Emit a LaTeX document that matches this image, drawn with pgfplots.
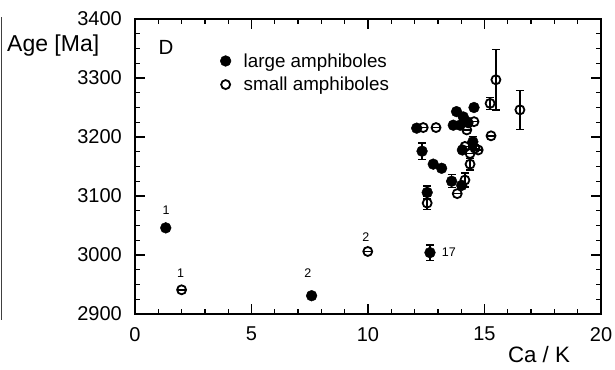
\documentclass[border=0pt]{standalone}
\usepackage{pgfplots}
\pgfplotsset{compat=1.18}
\usepackage{pgfplotstable}
\usepackage{fontspec}
\setmainfont{Liberation Sans}

\pgfplotstableread{
x y e
1.32 3046 0
7.58 2931 0
12.66 3004 13
12.09 3215 0
13.66 3220 0
13.80 3243 0
14.55 3250 0
14.09 3234 0
14.24 3226 0
13.95 3220 0
14.50 3192 9
14.05 3178 0
12.32 3176 14
12.80 3154 0
13.16 3147 0
13.59 3125 11
14.02 3118 0
12.54 3106 11
}\largetab

\pgfplotstableread{
x y e
2.00 2941 0
9.99 3006 0
15.49 3297 51
16.52 3246 33
15.24 3257 10
15.28 3202 0
12.37 3216 0
12.92 3216 0
14.30 3224 0
14.55 3226 0
14.24 3212 0
14.16 3184 0
14.59 3181 0
14.73 3178 0
14.38 3172 0
14.38 3154 10
14.16 3127 12
13.83 3104 0
12.54 3088 11
}\smalltab

\begin{document}
\begin{tikzpicture}
\begin{axis}[
  name=ax,
  scale only axis,
  width=466bp, height=295bp,
  xmin=0, xmax=20, ymin=2900, ymax=3400,
  xtick={0,5,10,15,20},
  ytick={2900,3000,3100,3200,3300,3400},
  minor x tick num=4,
  minor y tick num=3,
  tick align=inside,
  major tick length=10bp,
  minor tick length=5bp,
  axis line style={line width=1.6bp},
  every tick/.style={line width=1.3bp, black},
  /pgf/number format/assume math mode=true,
  /pgf/number format/1000 sep={},
  tick label style={font=\fontsize{20bp}{24bp}\selectfont, inner sep=0pt},
  xticklabel shift=13bp,
  yticklabel shift=13bp,
  clip=false,
  legend cell align=left,
  legend image code/.code={\draw[#1] plot coordinates {(0bp,0bp)};},
  legend style={at={(axis cs:3.65,3342)}, anchor=north west, draw=none, fill=none,
    inner sep=0pt, row sep=8.5bp, column sep=12.7bp,
    font=\fontsize{18.8bp}{22bp}\selectfont,
    nodes={inner sep=0pt}},
]
\addplot[only marks, mark=*, mark size=5.4bp, black, fill=black,
  error bars/.cd, y dir=both, y explicit,
  error bar style={line width=1.4bp, black},
  error mark options={rotate=90, mark size=4bp, line width=1.4bp, black}]
  table[x=x, y=y, y error=e] {\largetab};
\addlegendentry{large amphiboles}
\addplot[only marks, mark=o, mark size=4.5bp, black, line width=1.8bp,
  mark options={fill=white},
  error bars/.cd, y dir=both, y explicit,
  error bar style={line width=1.4bp, black},
  error mark options={rotate=90, mark size=4bp, line width=1.4bp, black}]
  table[x=x, y=y, y error=e] {\smalltab};
\addlegendentry{small amphiboles}

\node[font=\fontsize{12.5bp}{15bp}\selectfont] at (axis cs:1.33,3076) {1};
\node[font=\fontsize{12.5bp}{15bp}\selectfont] at (axis cs:1.96,2970) {1};
\node[font=\fontsize{12.5bp}{15bp}\selectfont] at (axis cs:7.42,2970) {2};
\node[font=\fontsize{12.5bp}{15bp}\selectfont] at (axis cs:9.91,3031) {2};
\node[font=\fontsize{12.5bp}{15bp}\selectfont, anchor=west, inner sep=0pt] at (axis cs:13.16,3004) {17};
\node[font=\fontsize{20.5bp}{24bp}\selectfont] at (axis cs:1.33,3352.5) {D};
\node[font=\fontsize{23bp}{27bp}\selectfont, anchor=base west, inner sep=0pt] at (axis cs:-5.494,3344.6) {Age [Ma]};
\node[font=\fontsize{22.3bp}{27bp}\selectfont, anchor=base, inner sep=0pt] at (axis cs:17.34,2817) {Ca / K};
\draw[line width=1.5bp, black!75] (axis cs:-5.73,3403) -- (axis cs:-5.73,2890);
\end{axis}
\pgfresetboundingbox
\path ([shift={(-135bp,-56bp)}]ax.south west) rectangle ([shift={(14bp,19bp)}]ax.north east);
\end{tikzpicture}
\end{document}
